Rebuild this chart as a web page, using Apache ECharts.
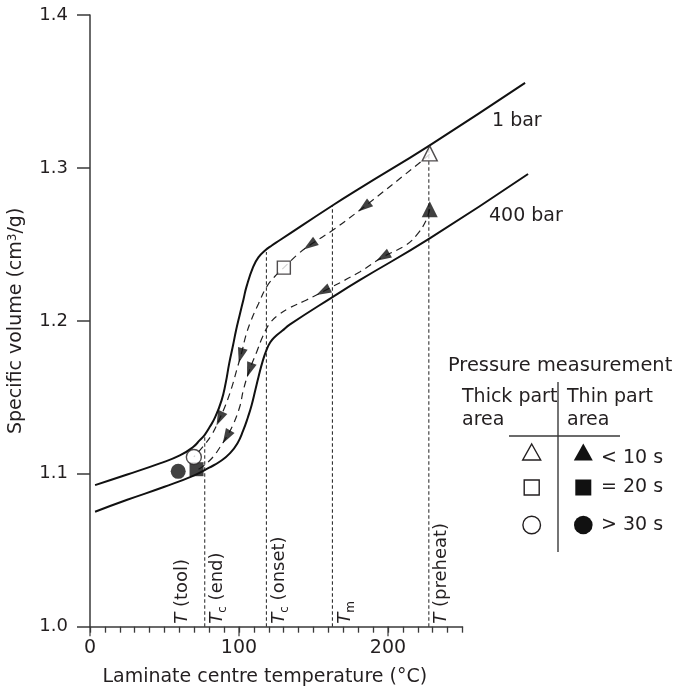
<!DOCTYPE html>
<html><head><meta charset="utf-8">
<script src="https://cdn.jsdelivr.net/npm/echarts@6/dist/echarts.min.js"></script>
<style>html,body{margin:0;padding:0;background:#fff}#c{width:674px;height:688px}</style>
</head><body><div id="c"></div>
<script>
// ---------- data ----------
const curve1bar = [[3.4,1.0926],[25,1.0995],[46.9,1.1068],[60.3,1.1120],[69.2,1.1175],[73.7,1.1220],[77,1.1255],[80.4,1.1307],[84,1.1370],[88.3,1.1480],[91,1.1590],[93.4,1.1720],[96,1.1840],[98,1.1937],[100.5,1.2040],[103,1.2140],[105,1.2222],[109.5,1.2353],[113,1.2415],[117.3,1.2458],[122,1.2493],[127.3,1.2527],[163,1.2756],[181,1.2866],[228,1.3148],[292,1.3556]];
const curve400bar = [[3.4,1.0752],[25,1.0830],[50,1.0915],[70,1.0990],[80,1.1040],[88,1.1085],[94,1.1135],[99,1.1200],[102.7,1.1280],[106,1.1370],[108.5,1.1450],[111,1.1550],[113,1.1630],[116,1.1740],[118.5,1.1810],[121,1.1860],[124,1.1895],[129,1.1935],[134,1.1975],[163,1.2157],[181,1.2266],[228,1.2539],[294,1.2960]];
const path1bar = [[228,1.3090],[222,1.3040],[184,1.2745],[181,1.2723],[164,1.2600],[147.5,1.2495],[140,1.2440],[130.1,1.2348],[124,1.2290],[118.5,1.2222],[113,1.2110],[108,1.2000],[104.5,1.1900],[102,1.1800],[98.5,1.1680],[95,1.1560],[91,1.1450],[87,1.1360],[82,1.1260],[76,1.1180],[69.7,1.1110]];
const path400bar = [[228,1.2730],[225.6,1.2658],[220,1.2570],[212,1.2495],[196.6,1.2418],[181,1.2320],[161,1.2215],[145,1.2135],[134,1.2085],[126,1.2035],[120.6,1.1983],[116,1.1900],[112,1.1800],[107,1.1678],[103,1.1550],[100.5,1.1438],[96,1.1320],[91.6,1.1240],[87,1.1170],[82.6,1.1110],[76,1.1050],[71.5,1.1022]];
const arrows1barT = [184, 147.5, 101.2, 87];
const arrows400barT = [196.6, 156.4, 107, 91.6];
const thickPoints = [[228,1.3095],[130.1,1.2348],[69.7,1.1110]];   // <10 s, =20 s, >30 s
const thinPoints  = [[228,1.2730],[71.5,1.1030],[59.2,1.1016]];
const refLineT   = [77, 118.4, 162.7, 227.4];
const refLineTop = [1.1255, 1.2451, 1.2756, 1.3146];
const refLabelT    = [77, 77, 118.4, 162.7, 227.4];
const refLabelText = ['{i|T} (tool)', '{i|T}{s|c} (end)', '{i|T}{s|c} (onset)', '{i|T}{s|m}', '{i|T} (preheat)'];
const xMajorTicks = [0, 100, 200];
const curveNames = ['1 bar', '400 bar'];
const legendRows = ['< 10 s', '= 20 s', '> 30 s'];

// ---------- chart ----------
const INK = '#231f20', AX = '#3a3a3a', FONT = 'DejaVu Sans';
const chart = echarts.init(document.getElementById('c'), null, {renderer: 'canvas'});

function interp(path, T) {
  for (let i = 0; i < path.length - 1; i++) {
    const a = path[i], b = path[i + 1];
    if (T <= a[0] && T >= b[0]) {
      const t = (a[0] - T) / (a[0] - b[0]);
      return a[1] + (b[1] - a[1]) * t;
    }
  }
  return path[path.length - 1][1];
}

const shapeOf = ['triangle', 'rect', 'circle'];
const sizeOf = [15, 13, 15];
const thinSize = [16, 14, 15];
const ARROW = 'path://M5 0 L10 14 L0 14 Z';

// plotting grid is wider than the drawn axis so the curves can run past 250 °C
const PX_PER_UNIT = 372.5 / 250;
const DATA_MAX = 295;

const series = [
  {type:'line', name:curveNames[0], data:curve1bar, symbol:'none', smooth:0.5, clip:false,
   lineStyle:{color:'#111', width:2}, z:3},
  {type:'line', name:curveNames[1], data:curve400bar, symbol:'none', smooth:0.5, clip:false,
   lineStyle:{color:'#111', width:2}, z:3},
  ...refLineT.map((t, i) => ({type:'line', data:[[t,1.0],[t,refLineTop[i]]], symbol:'none',
    lineStyle:{color:'#333', width:1.1, type:[3.5,2.5]}, z:2})),
  {type:'line', data:path1bar, symbol:'none', smooth:0.4, lineStyle:{color:'#222', width:1.2, type:[7,5]}, z:2},
  {type:'line', data:path400bar, symbol:'none', smooth:0.4, lineStyle:{color:'#222', width:1.2, type:[7,5]}, z:2},
  {type:'scatter', id:'arrA', data:[], symbol:ARROW, symbolSize:[10,15], symbolKeepAspect:false, itemStyle:{color:'#111'}, z:4},
  {type:'scatter', id:'arrB', data:[], symbol:ARROW, symbolSize:[10,15], symbolKeepAspect:false, itemStyle:{color:'#111'}, z:4},
  {type:'scatter', data:thinPoints.map((p, i) => ({value:p, symbol:shapeOf[i], symbolSize:thinSize[i]})),
   itemStyle:{color:'#111', borderColor:'#111', borderWidth:0}, z:5},
  {type:'scatter', data:thickPoints.map((p, i) => ({value:p, symbol:shapeOf[i], symbolSize:sizeOf[i]})),
   itemStyle:{color:'#fff', borderColor:INK, borderWidth:1.4}, z:6},
  {type:'scatter', xAxisIndex:1, yAxisIndex:1, data:xMajorTicks.map(t => [t, 1.0]), symbol:'rect',
   symbolSize:[1.5, 9.5], symbolOffset:[0, 4.75], itemStyle:{color:AX}, clip:false, silent:true, z:7}
];

const option = {
  animation:false,
  backgroundColor:'#fff',
  textStyle:{fontFamily:FONT, color:INK},
  grid:[
    {left:90, top:15, width:DATA_MAX * PX_PER_UNIT, bottom:61.3, containLabel:false, outerBoundsMode:'none'},
    {left:90, top:15, width:250 * PX_PER_UNIT, bottom:61.3, containLabel:false, outerBoundsMode:'none'}
  ],
  xAxis:[
    {type:'value', gridIndex:0, min:0, max:DATA_MAX, show:false, splitLine:{show:false}},
    {type:'value', gridIndex:1, min:0, max:250, interval:10,
     name:'Laminate centre temperature (°C)', nameLocation:'middle', nameGap:41,
     nameTextStyle:{fontFamily:FONT, fontSize:19, color:INK, padding:[0,23,0,0]},
     axisLine:{lineStyle:{color:AX, width:1.5}},
     axisTick:{length:6, lineStyle:{color:AX, width:1.3}},
     axisLabel:{margin:12, fontFamily:FONT, fontSize:19, color:INK, formatter:v => (v % 100 === 0 ? String(v) : '')},
     splitLine:{show:false}}
  ],
  yAxis:[
    {type:'value', gridIndex:0, min:1.0, max:1.4, interval:0.1,
     name:'Specific volume (cm{sup|3}/g)', nameLocation:'middle', nameGap:64,
     nameTextStyle:{fontFamily:FONT, fontSize:19, color:INK,
       rich:{sup:{fontFamily:FONT, fontSize:12, color:INK, verticalAlign:'top', lineHeight:10}}},
     axisLine:{show:true, lineStyle:{color:AX, width:1.5}},
     axisTick:{show:true, length:13, lineStyle:{color:AX, width:1.5}},
     axisLabel:{margin:22, fontFamily:FONT, fontSize:18, color:INK, formatter:v => v.toFixed(1)},
     splitLine:{show:false}},
    {type:'value', gridIndex:1, min:1.0, max:1.4, show:false, splitLine:{show:false}}
  ],
  series:series
};
chart.setOption(option);

// ---------- computed decorations ----------
function arrowData(path, Ts) {
  return Ts.map(T => {
    const v = interp(path, T);
    const p0 = chart.convertToPixel({gridIndex:0}, [T + 1, interp(path, T + 1)]);
    const p1 = chart.convertToPixel({gridIndex:0}, [T - 1, interp(path, T - 1)]);
    const dx = p1[0] - p0[0], dy = p1[1] - p0[1];
    const rot = Math.atan2(-dx, -dy) * 180 / Math.PI;
    return {value:[T, v], symbolRotate:rot};
  });
}

const graphic = [];
const richLbl = {
  i:{fontFamily:FONT, fontSize:18, fontStyle:'italic', fill:INK, lineHeight:22},
  s:{fontFamily:FONT, fontSize:12, fill:INK, verticalAlign:'bottom', lineHeight:14}
};
const labelDx = [-22, 13, 13, 13, 13];
refLabelT.forEach((t, i) => {
  const p = chart.convertToPixel({gridIndex:0}, [t, 1.0]);
  graphic.push({type:'text', x:p[0] + labelDx[i], y:p[1] - 3, rotation:Math.PI / 2,
    style:{text:refLabelText[i], rich:richLbl, font:'18px "' + FONT + '"', fill:INK, align:'left', verticalAlign:'middle'}, z:10});
});

const txt = (s, x, y, size) => ({type:'text', x:x, y:y,
  style:{text:s, font:(size || 19) + 'px "' + FONT + '"', fill:INK, align:'left', verticalAlign:'middle'}, z:10});
graphic.push(txt(curveNames[0], 492, 121));
graphic.push(txt(curveNames[1], 489, 216));

// legend table
graphic.push(txt('Pressure measurement', 448, 366, 19.4));
graphic.push(txt('Thick part', 462, 397));
graphic.push(txt('area', 462, 420));
graphic.push(txt('Thin part', 567, 397));
graphic.push(txt('area', 567, 420));
graphic.push({type:'line', shape:{x1:558, y1:382, x2:558, y2:552}, style:{stroke:AX, lineWidth:1.4}});
graphic.push({type:'line', shape:{x1:509, y1:436, x2:620, y2:436}, style:{stroke:AX, lineWidth:1.4}});
const rowY = [452, 487.5, 525];
const c1 = 531.7, c2 = 583.3;
function legSym(kind, cx, cy, filled) {
  const st = filled ? {fill:'#111', stroke:'#111', lineWidth:0} : {fill:'#fff', stroke:INK, lineWidth:1.4};
  if (kind === 0) { const w = filled ? 19 : 18, h = filled ? 17 : 16;
    return {type:'polygon', shape:{points:[[cx, cy - h/2],[cx + w/2, cy + h/2],[cx - w/2, cy + h/2]]}, style:st}; }
  if (kind === 1) { const s = filled ? 16 : 15;
    return {type:'rect', shape:{x:cx - s/2, y:cy - s/2, width:s, height:s}, style:st}; }
  const r = filled ? 9.3 : 8.8;
  return {type:'circle', shape:{cx:cx, cy:cy, r:r}, style:st};
}
legendRows.forEach((lab, i) => {
  graphic.push(legSym(i, c1, rowY[i], false));
  graphic.push(legSym(i, c2, rowY[i], true));
  graphic.push(txt(lab, 601, rowY[i] + (i === 0 ? 6 : 0)));
});

chart.setOption({
  series:[{id:'arrA', data:arrowData(path1bar, arrows1barT)}, {id:'arrB', data:arrowData(path400bar, arrows400barT)}],
  graphic:graphic
});
</script></body></html>
